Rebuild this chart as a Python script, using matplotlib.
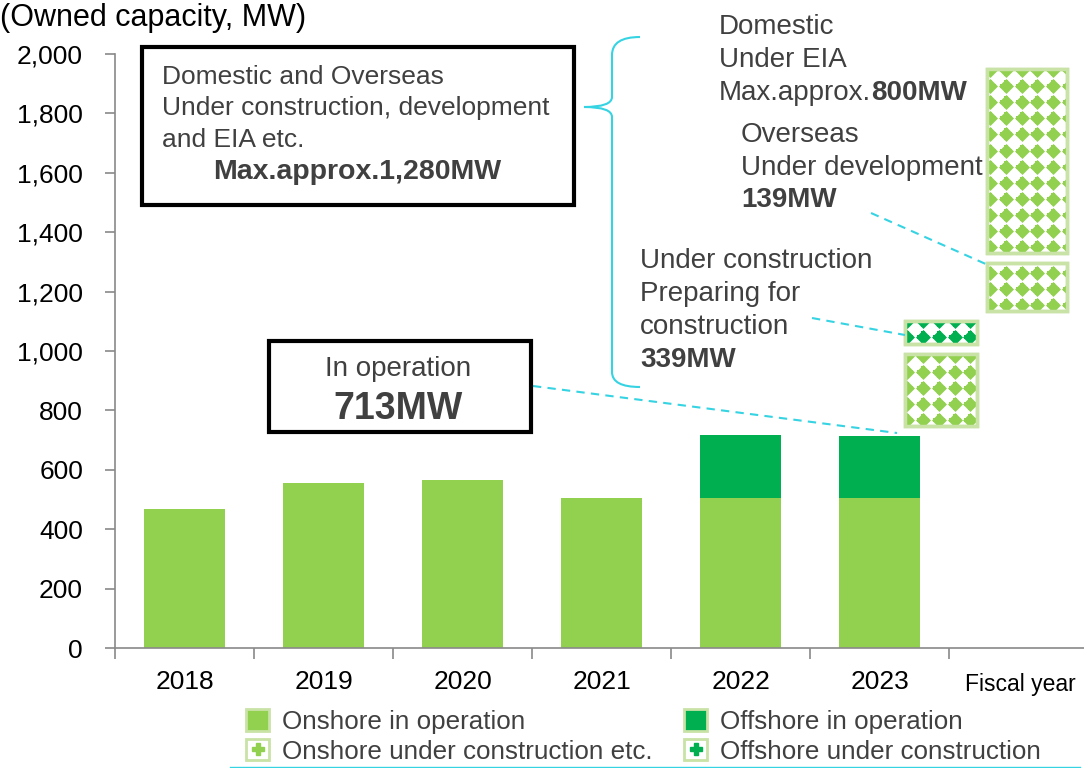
import numpy as np
import matplotlib
matplotlib.use("Agg")
import matplotlib.pyplot as plt
from matplotlib.patches import Patch, Rectangle, PathPatch
from matplotlib.lines import Line2D
from matplotlib.path import Path

plt.rcParams['font.family'] = ['Liberation Sans', 'DejaVu Sans']

YEARS = ['2018', '2019', '2020', '2021', '2022', '2023']
ONSHORE_OP = [468, 555, 566, 505, 505, 505]
OFFSHORE_OP = [0, 0, 0, 0, 212, 208]

# future blocks, heights as drawn (not to scale with the labels)
MID_BLOCKS = [245, 77]          # onshore under construction, offshore under construction
MID_COLORS = ['#92d050', '#00b050']
RIGHT_BLOCKS = [162, 620]       # overseas under development, domestic under EIA
RIGHT_COLORS = ['#92d050', '#92d050']
BLOCK_GAP = 33

ONSHORE_C = '#92d050'
OFFSHORE_C = '#00b050'
EDGE_LIGHT = '#c9e2a6'
CYAN = '#36d3e3'
TXT = '#404040'

W, H = 1084, 768


def px(x, y):
    return x / W, 1 - y / H


def hatched_block(ax, x, width, bottom, height, color):
    rect = Rectangle((x - width / 2, bottom), width, height, facecolor='white',
                     edgecolor=EDGE_LIGHT, linewidth=2.5, zorder=3)
    ax.add_patch(rect)
    dx = 0.113
    dy = 54
    xs = np.arange(x - width / 2 + 0.02, x + width / 2 + dx, dx)
    ys = np.arange(bottom + 22, bottom + height + dy, dy)
    gx, gy = np.meshgrid(xs, ys)
    pts = ax.scatter(gx.ravel(), gy.ravel(), marker='D', s=58, color=color,
                     linewidths=0, zorder=4)
    pts.set_clip_path(rect)
    pls = ax.scatter(gx.ravel(), gy.ravel(), marker='P', s=70, color=color,
                     linewidths=0, zorder=4)
    pls.set_clip_path(rect)
    edge = Rectangle((x - width / 2, bottom), width, height, facecolor='none',
                     edgecolor=EDGE_LIGHT, linewidth=2.5, zorder=5)
    ax.add_patch(edge)


def main():
    fig = plt.figure(figsize=(10.84, 7.68), dpi=100)
    ax = fig.add_axes([115 / W, 1 - 648 / H, 1 - 115 / W, (648 - 54) / H])

    pos = np.arange(len(YEARS))
    ax.bar(pos, ONSHORE_OP, width=0.58, color=ONSHORE_C, zorder=2)
    ax.bar(pos, OFFSHORE_OP, width=0.58, bottom=ONSHORE_OP, color=OFFSHORE_C, zorder=2)

    total_last = ONSHORE_OP[-1] + OFFSHORE_OP[-1]
    base = total_last + BLOCK_GAP
    for h, c in zip(MID_BLOCKS, MID_COLORS):
        hatched_block(ax, 5.44, 0.52, base, h, c)
        base += h + BLOCK_GAP
    for h, c in zip(RIGHT_BLOCKS, RIGHT_COLORS):
        hatched_block(ax, 6.06, 0.57, base, h, c)
        base += h + BLOCK_GAP

    ax.set_xlim(-0.5, 6.47)
    ax.set_ylim(0, 2000)
    ax.set_yticks(np.arange(0, 2001, 200))
    ax.set_yticklabels([f'{v:,}' for v in range(0, 2001, 200)], fontsize=19)
    ax.set_xticks(np.arange(-0.5, 6, 1))
    ax.set_xticklabels([])
    ax.set_xticks(pos, minor=True)
    ax.set_xticklabels(YEARS, minor=True, fontsize=19)
    ax.tick_params(axis='x', which='minor', length=0, pad=16)
    ax.tick_params(axis='x', which='major', length=8, color='#898989', width=1.2)
    ax.tick_params(axis='y', length=7, color='#898989', width=1.2, pad=16)
    for s in ['top', 'right']:
        ax.spines[s].set_visible(False)
    for s in ['left', 'bottom']:
        ax.spines[s].set_color('#898989')
        ax.spines[s].set_linewidth(1.2)

    fig.text(*px(0, 18), '(Owned capacity, MW)', fontsize=22, va='center', ha='left')
    fig.text(*px(965, 684), 'Fiscal year', fontsize=16.5, va='center', ha='left')

    # big box
    x0, y0 = px(142, 205)
    x1, y1 = px(574, 47)
    fig.add_artist(Rectangle((x0, y0), x1 - x0, y1 - y0, transform=fig.transFigure,
                             facecolor='white', edgecolor='black', linewidth=3, zorder=6))
    for yy, s in zip([77, 108, 140], ['Domestic and Overseas',
                                      'Under construction, development',
                                      'and EIA etc.']):
        fig.text(*px(162, yy), s, fontsize=19, color=TXT, va='center', ha='left', zorder=7)
    fig.text(*px(357, 172), 'Max.approx.1,280MW', fontsize=20.5, color=TXT,
             fontweight='bold', va='center', ha='center', zorder=7)

    # in operation box
    x0, y0 = px(269, 432)
    x1, y1 = px(531, 341)
    fig.add_artist(Rectangle((x0, y0), x1 - x0, y1 - y0, transform=fig.transFigure,
                             facecolor='white', edgecolor='black', linewidth=3, zorder=6))
    fig.text(*px(398, 369), 'In operation', fontsize=20, color=TXT, va='center',
             ha='center', zorder=7)
    fig.text(*px(398, 409), '713MW', fontsize=27, color=TXT, fontweight='bold',
             va='center', ha='center', zorder=7)

    # right side texts
    fs = 20
    fig.text(*px(719, 27), 'Domestic', fontsize=fs, color=TXT, va='center')
    fig.text(*px(719, 60), 'Under EIA', fontsize=fs, color=TXT, va='center')
    fig.text(*px(719, 93), 'Max.approx.', fontsize=fs, color=TXT, va='center')
    fig.text(*px(871, 93), '800MW', fontsize=fs, color=TXT, va='center', fontweight='bold')
    fig.text(*px(741, 135), 'Overseas', fontsize=fs, color=TXT, va='center')
    fig.text(*px(741, 168), 'Under development', fontsize=fs, color=TXT, va='center')
    fig.text(*px(741, 200), '139MW', fontsize=fs, color=TXT, va='center', fontweight='bold')
    fig.text(*px(640, 261), 'Under construction', fontsize=fs, color=TXT, va='center')
    fig.text(*px(640, 294), 'Preparing for', fontsize=fs, color=TXT, va='center')
    fig.text(*px(640, 327), 'construction', fontsize=fs, color=TXT, va='center')
    fig.text(*px(640, 360), '339MW', fontsize=fs, color=TXT, va='center', fontweight='bold')

    # curly brace
    verts = [(640, 37), (612, 37), (612, 55), (612, 97), (612, 107), (584, 107),
             (612, 107), (612, 117), (612, 372), (612, 387), (640, 387)]
    codes = [Path.MOVETO, Path.CURVE3, Path.CURVE3, Path.LINETO, Path.CURVE3, Path.CURVE3,
             Path.CURVE3, Path.CURVE3, Path.LINETO, Path.CURVE3, Path.CURVE3]
    brace = Path([px(*v) for v in verts], codes)
    fig.add_artist(PathPatch(brace, transform=fig.transFigure, facecolor='none',
                             edgecolor=CYAN, linewidth=1.5))

    # dashed leader lines
    for (a, b), (c, d) in [((533, 386), (897, 433)), ((812, 318), (905, 335)),
                           ((871, 213), (988, 265))]:
        xa, ya = px(a, b)
        xc, yc = px(c, d)
        fig.add_artist(Line2D([xa, xc], [ya, yc], transform=fig.transFigure,
                              color=CYAN, linewidth=1.5, dashes=(4, 3), zorder=5))

    fig.add_artist(Line2D([230 / W, 1080 / W], [0.0015, 0.0015], transform=fig.transFigure,
                          color=CYAN, linewidth=1))

    handles = [
        Patch(facecolor=ONSHORE_C, edgecolor=EDGE_LIGHT, linewidth=2),
        (Patch(facecolor='white', edgecolor=EDGE_LIGHT, linewidth=2),
         Line2D([], [], marker='P', color=ONSHORE_C, ls='', markersize=8)),
        Patch(facecolor=OFFSHORE_C, edgecolor=EDGE_LIGHT, linewidth=2),
        (Patch(facecolor='white', edgecolor=EDGE_LIGHT, linewidth=2),
         Line2D([], [], marker='P', color=OFFSHORE_C, ls='', markersize=8)),
    ]
    labels = ['Onshore in operation', 'Onshore under construction etc.',
              'Offshore in operation', 'Offshore under construction']
    fig.legend(handles, labels, loc='upper left', bbox_to_anchor=px(246, 709), ncol=2,
               frameon=False, fontsize=18.7, handlelength=0.9, handleheight=0.9,
               handletextpad=0.5, columnspacing=1.2, labelspacing=0.2, borderpad=0,
               borderaxespad=0, labelcolor=TXT)

    fig.savefig('out.png', dpi=100)


if __name__ == '__main__':
    main()
